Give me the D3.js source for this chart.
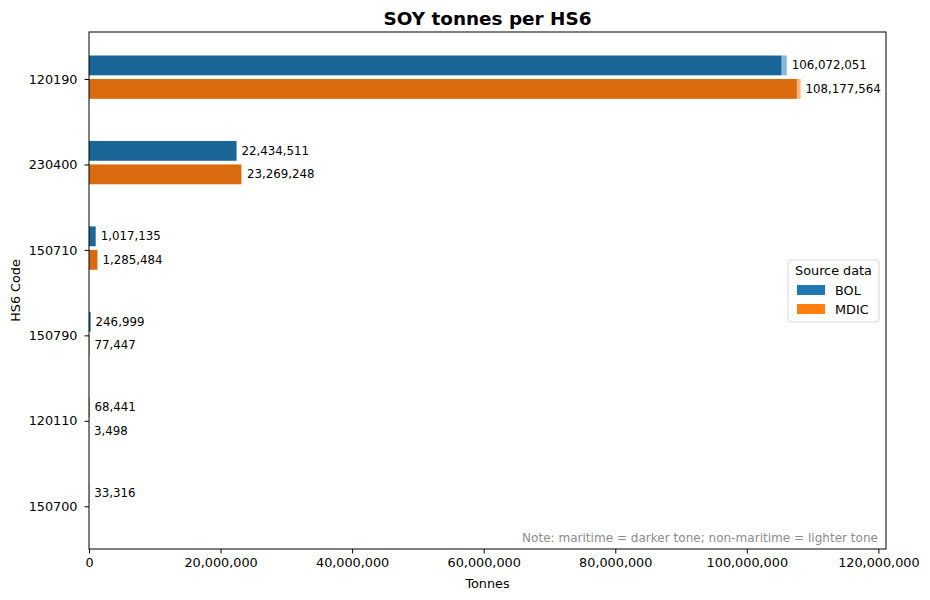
<!DOCTYPE html>
<html>
<head>
<meta charset="utf-8">
<script src="https://cdn.jsdelivr.net/npm/d3@7"></script>
<style>
  body { margin: 0; background: #fff; }
  svg { font-family: "DejaVu Sans", sans-serif; }
</style>
</head>
<body>
<div class="content"></div>
<script>
const categories = ["120190", "230400", "150710", "150790", "120110", "150700"];
const bolTotal = [106072051, 22434511, 1017135, 246999, 68441, 33316];
const mdicTotal = [108177564, 23269248, 1285484, 77447, 3498, 0];
// non-maritime share (lighter tone)
const bolNonMaritime = [760000, 0, 0, 0, 0, 0];
const mdicNonMaritime = [560000, 110000, 0, 0, 0, 0];
const xTicks = [0, 20000000, 40000000, 60000000, 80000000, 100000000, 120000000];

const series = [
    { name: "BOL", total: bolTotal, light: bolNonMaritime, dark: "#1b6699", lite: "#86b8dc", legend: "#1f77b4", offset: -0.275 },
    { name: "MDIC", total: mdicTotal, light: mdicNonMaritime, dark: "#d96b0e", lite: "#fbb57c", legend: "#ff7f0e", offset: 0.0 }
];

const content = document.querySelector(".content");
content.innerHTML = '<svg width="930" height="600"></svg>';
const svg = d3.select("svg");

const plotLeft = 89, plotRight = 886, plotTop = 32, plotBottom = 549;
const barH = 0.232;

const x = d3.scaleLinear().domain([0, d3.max(mdicTotal) * 1.12]).range([plotLeft, plotRight]);
const y = d3.scaleLinear().domain([-0.55, categories.length - 0.5]).range([plotTop, plotBottom]);
const fmt = d3.format(",");

// bars
series.forEach(s => {
    const g = svg.append("g");
    categories.forEach((c, i) => {
        const total = s.total[i];
        if (total <= 0) return;
        const darkVal = total - s.light[i];
        const y0 = y(i + s.offset), h = y(i + s.offset + barH) - y0;
        g.append("rect")
            .attr("x", x(0))
            .attr("y", y0)
            .attr("width", x(darkVal) - x(0))
            .attr("height", h)
            .attr("fill", s.dark);
        if (s.light[i] > 0) {
            g.append("rect")
                .attr("x", x(darkVal))
                .attr("y", y0)
                .attr("width", x(total) - x(darkVal))
                .attr("height", h)
                .attr("fill", s.lite);
        }
        g.append("text")
            .attr("x", x(total) + 5)
            .attr("y", y(i + s.offset + barH / 2))
            .attr("dominant-baseline", "central")
            .attr("font-size", "11.8px")
            .attr("fill", "#000")
            .text(fmt(total));
    });
});

// axes
const xAxis = svg.append("g")
    .attr("transform", `translate(0,${plotBottom})`)
    .call(d3.axisBottom(x).tickValues(xTicks).tickFormat(fmt).tickSize(4.5).tickPadding(4));
const yAxis = svg.append("g")
    .attr("transform", `translate(${plotLeft},0)`)
    .call(d3.axisLeft(y).tickValues(d3.range(categories.length)).tickFormat(i => categories[i]).tickSize(4.5).tickPadding(7));
[xAxis, yAxis].forEach(a => {
    a.select(".domain").remove();
    a.selectAll("text").attr("font-size", "12.8px").attr("font-family", "DejaVu Sans").attr("fill", "#000");
    a.selectAll("line").attr("stroke", "#000");
});

svg.append("rect")
    .attr("x", plotLeft).attr("y", plotTop)
    .attr("width", plotRight - plotLeft).attr("height", plotBottom - plotTop)
    .attr("fill", "none").attr("stroke", "#000").attr("stroke-width", 1);

// titles
svg.append("text")
    .attr("x", (plotLeft + plotRight) / 2).attr("y", 25)
    .attr("text-anchor", "middle")
    .attr("font-size", "18.4px").attr("font-weight", "bold")
    .text("SOY tonnes per HS6");
svg.append("text")
    .attr("x", (plotLeft + plotRight) / 2).attr("y", 588)
    .attr("text-anchor", "middle")
    .attr("font-size", "12.8px")
    .text("Tonnes");
svg.append("text")
    .attr("transform", `translate(20,${(plotTop + plotBottom) / 2}) rotate(-90)`)
    .attr("text-anchor", "middle")
    .attr("font-size", "12.8px")
    .text("HS6 Code");

// note
svg.append("text")
    .attr("x", 878).attr("y", 538)
    .attr("text-anchor", "end")
    .attr("dominant-baseline", "central")
    .attr("font-size", "12.05px")
    .attr("fill", "#8c8c8c")
    .text("Note: maritime = darker tone; non-maritime = lighter tone");

// legend
const legend = svg.append("g").attr("transform", "translate(788,260)");
legend.append("rect")
    .attr("width", 91).attr("height", 62)
    .attr("rx", 3).attr("ry", 3)
    .attr("fill", "#fff").attr("fill-opacity", 0.8)
    .attr("stroke", "#d6d6d6");
legend.append("text")
    .attr("x", 45.5).attr("y", 10.5)
    .attr("text-anchor", "middle")
    .attr("dominant-baseline", "central")
    .attr("font-size", "12.8px")
    .text("Source data");
series.forEach((s, k) => {
    legend.append("rect")
        .attr("x", 9).attr("y", 25 + k * 19)
        .attr("width", 28).attr("height", 10)
        .attr("fill", s.legend);
    legend.append("text")
        .attr("x", 47).attr("y", 30 + k * 19)
        .attr("dominant-baseline", "central")
        .attr("font-size", "12.8px")
        .text(s.name);
});
</script>
</body>
</html>
